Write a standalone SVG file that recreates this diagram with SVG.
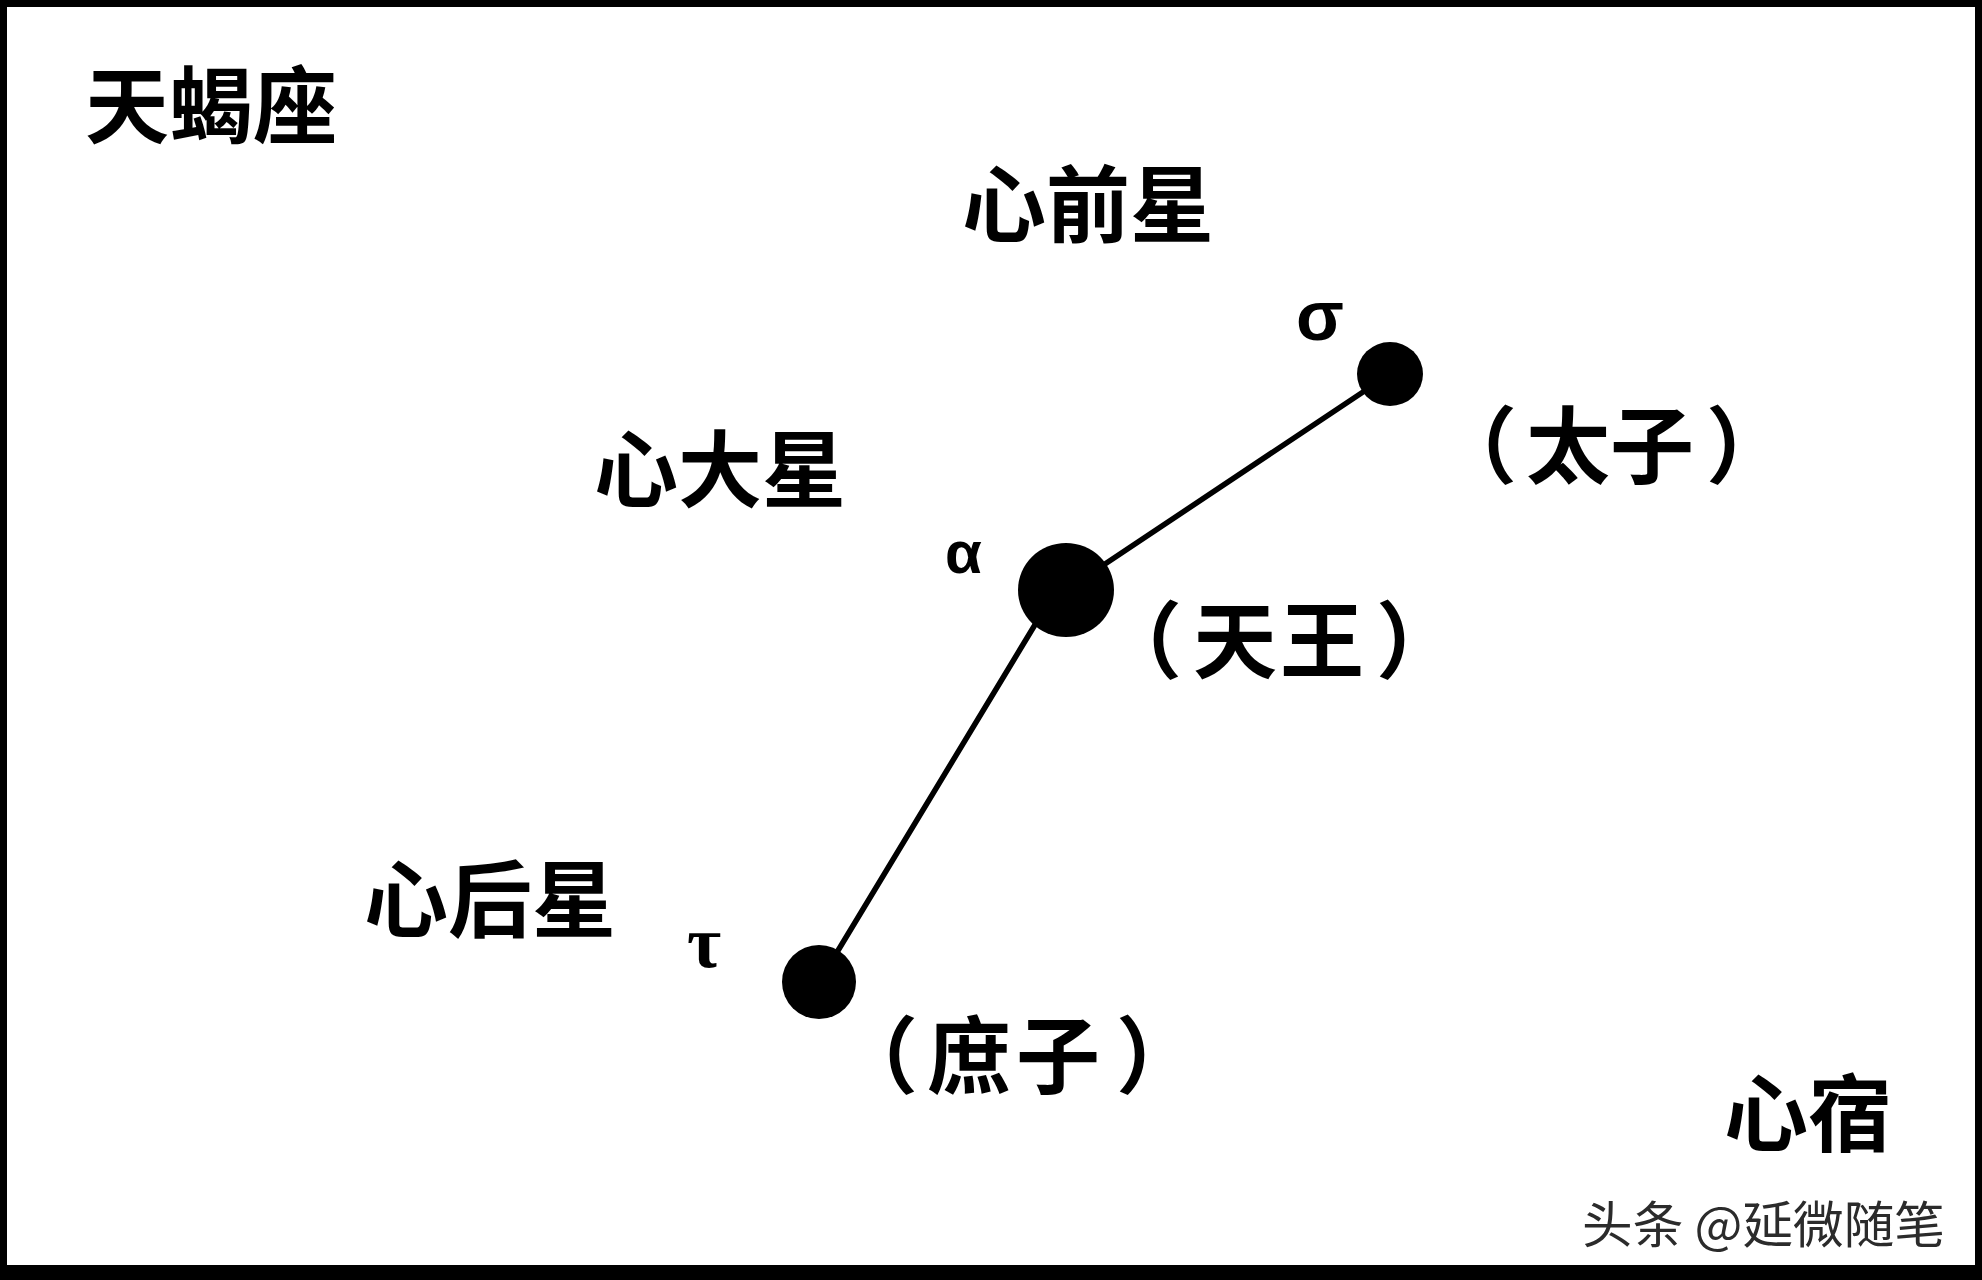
<svg xmlns="http://www.w3.org/2000/svg" width="1982" height="1280" viewBox="0 0 1982 1280">
<style>
.cjk{font-family:"Noto Sans CJK SC","Noto Sans CJK TC",sans-serif;font-weight:700;fill:#000;font-size:84px}
.greek{font-family:"Liberation Sans","DejaVu Sans",sans-serif;font-weight:700;fill:#000}
.wm{font-family:"Noto Sans CJK SC",sans-serif;font-size:50px;fill:#2b2b2b;stroke:#ffffff;stroke-width:3;paint-order:stroke}
.star{fill:#000}
.conn{stroke:#000;stroke-width:5.5;stroke-linecap:round;fill:none}
</style>
<rect x="0" y="0" width="1982" height="1280" fill="#000"/>
<rect x="7" y="7" width="1968" height="1258" fill="#fff"/>
<g id="labels">
<text class="cjk" x="85" y="137">天蝎座</text>
<text class="cjk" x="1724" y="1145">心宿</text>
</g>
<g id="connectors">
<line class="conn" x1="1390" y1="374" x2="1066" y2="590"/>
<line class="conn" x1="1056" y1="590" x2="819" y2="982"/>
</g>
<g id="node-sigma">
<ellipse class="star" cx="1390" cy="374" rx="33" ry="32"/>
<text class="greek" x="1296" y="340" font-size="70">σ</text>
<text class="cjk" x="962" y="236">心前星</text>
<text class="cjk" x="1433 1526 1610 1706" y="477">（太子）</text>
</g>
<g id="node-alpha">
<ellipse class="star" cx="1066" cy="590" rx="48" ry="47"/>
<text class="greek" x="945" y="573" font-size="60">α</text>
<text class="cjk" x="594" y="501">心大星</text>
<text class="cjk" x="1098 1193 1280 1376" y="672" font-size="86">（天王）</text>
</g>
<g id="node-tau">
<ellipse class="star" cx="819" cy="982" rx="37" ry="37"/>
<text x="687" y="967" font-size="74" font-family="Liberation Serif,serif" font-weight="700">τ</text>
<text class="cjk" x="364" y="931">心后星</text>
<text class="cjk" x="834 927 1016 1116" y="1087" font-size="86">（庶子）</text>
</g>
<text class="wm" x="1582" y="1243" textLength="363" lengthAdjust="spacingAndGlyphs">头条 @延微随笔</text>
</svg>
